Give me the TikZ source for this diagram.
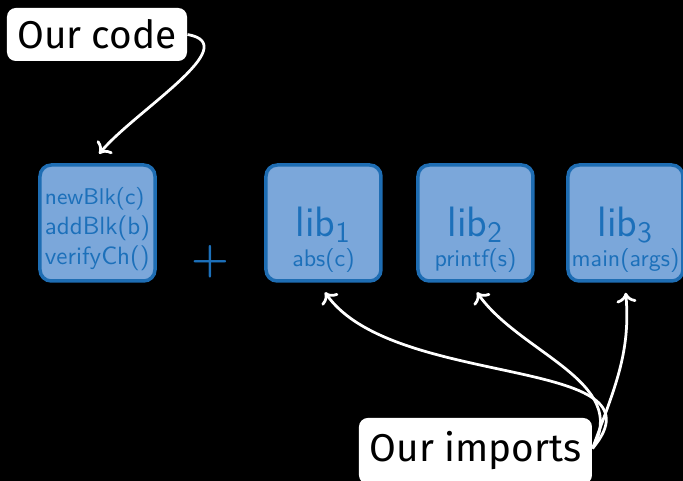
\documentclass[tikz,border=0pt]{standalone}
\usepackage{fontspec}
\usetikzlibrary{arrows.meta}
\newfontfamily\calloutfont{Fira Sans}
\definecolor{blkfill}{HTML}{7BA7DA}
\definecolor{blkline}{HTML}{1E6DB3}
\definecolor{blktext}{HTML}{1C70BA}
\tikzset{
  blk/.style={draw=blkline, fill=blkfill, line width=1.4pt, rounded corners=4.5pt,
    minimum width=46pt, minimum height=46.4pt, inner sep=0pt, text=blktext,
    font=\sffamily, align=center},
  callout/.style={fill=white, rounded corners=3.5pt, text=black, inner sep=0pt,
    font=\calloutfont\fontsize{15.5}{17}\selectfont},
  pointer/.style={draw=white, line width=1.1pt, -{To[length=4pt,width=8pt]}, shorten >=1pt}
}
\begin{document}
\begin{tikzpicture}[x=0.4pt, y=0.4pt]
  \fill[black] (0,0) rectangle (683,481);
  \useasboundingbox (0,0) rectangle (683,481);

  \node[blk, align=left] (code) at (97.5, 258)
    {\fontsize{9.1}{10.9}\selectfont\rule{0pt}{12pt}newBlk(c)\\addBlk(b)\\verifyCh()};
  \node[text=blktext, font=\fontsize{17}{17}\selectfont\boldmath] (plus) at (210, 219) {$+$};

  \node[blk] (lib1) at (323.5, 258)
    {{\fontsize{17}{17}\selectfont\rule{0pt}{25pt}lib$_{\mathsf{1}}$}\\[0pt]{\fontsize{9.6}{11}\selectfont abs(c)}};
  \node[blk] (lib2) at (475.5, 258)
    {{\fontsize{17}{17}\selectfont\rule{0pt}{25pt}lib$_{\mathsf{2}}$}\\[0pt]{\fontsize{9.6}{11}\selectfont printf(s)}};
  \node[blk] (lib3) at (625.5, 258)
    {{\fontsize{17}{17}\selectfont\rule{0pt}{25pt}lib$_{\mathsf{3}}$}\\[0pt]{\fontsize{9.6}{11}\selectfont main(args)}};

  \node[callout, minimum width=72pt, minimum height=21.2pt] (ourcode) at (97, 446.5) {Our code};
  \node[callout, minimum width=93.2pt, minimum height=26.4pt] (ourimports) at (475.5, 30) {Our imports};

  \draw[pointer] (ourcode.east) to[out=-10, in=50] ([yshift=3pt]code.north);

  \draw[pointer] ([yshift=1pt]ourimports.east) to[out=50, in=-55] ([yshift=-3pt]lib1.south);
  \draw[pointer] ([yshift=1pt]ourimports.east) to[out=60, in=-55] ([yshift=-3pt]lib2.south);
  \draw[pointer] ([yshift=1pt]ourimports.east) to[out=70, in=-85] ([yshift=-3pt]lib3.south);
\end{tikzpicture}
\end{document}
